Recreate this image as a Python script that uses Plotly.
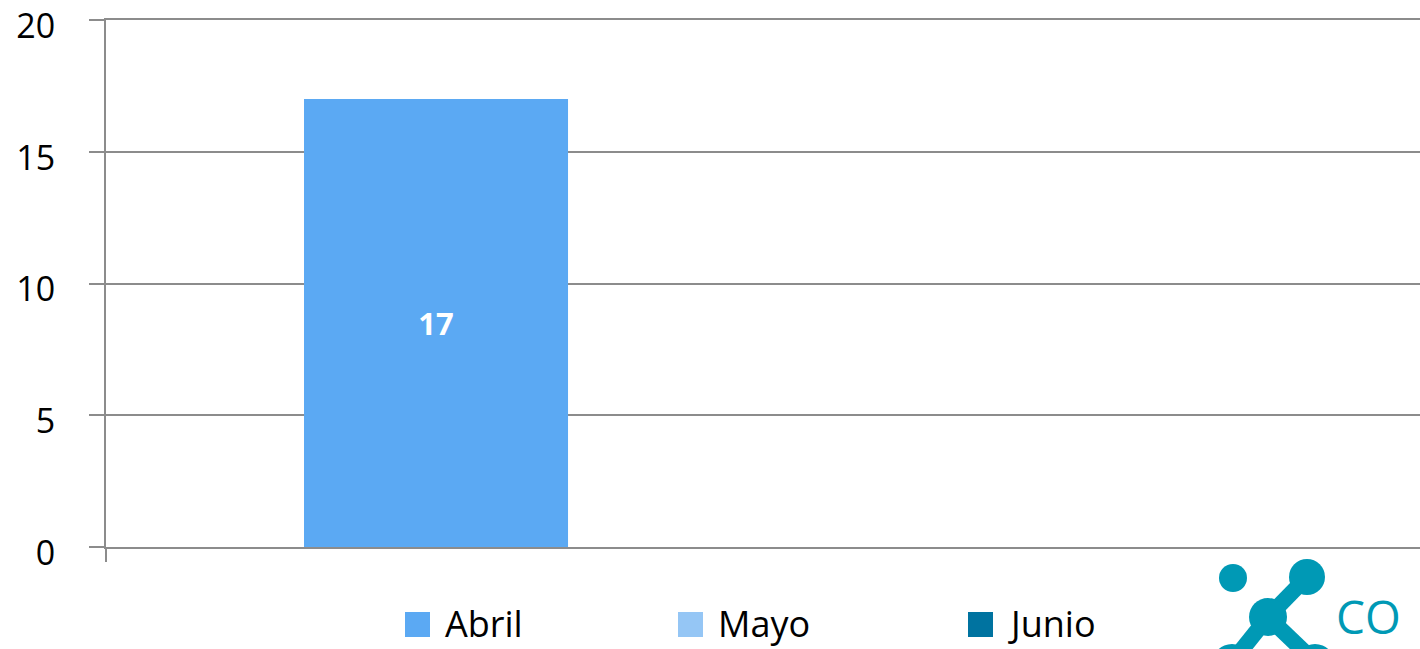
import plotly.graph_objects as go

# ---- data ----
categories = [""]
series_names = ["Abril", "Mayo", "Junio"]
abril_values = [17]
mayo_values = [0]
junio_values = [0]
series_colors = ["#5BA9F3", "#95C6F5", "#0073A0"]
y_ticks = [0, 5, 10, 15, 20]

W, H = 1420, 649
ML, MR, MT, MB = 106, 0, 20, 102
PW, PH = W - ML - MR, H - MT - MB


def px(x):
    return (x - ML) / PW


def py(y):
    return (H - MB - y) / PH


FONT = "Open Sans"
GRID = "#8C8C8C"

fig = go.Figure()
values = [abril_values, mayo_values, junio_values]
for name, vals, col in zip(series_names, values, series_colors):
    fig.add_trace(go.Bar(
        x=categories, y=vals, name=name,
        marker=dict(color=col, line=dict(width=0)),
        text=[str(v) if v else "" for v in vals],
        textposition="inside", insidetextanchor="middle",
        textfont=dict(family=FONT, size=31, color="white", weight="bold"),
        showlegend=False,
    ))

fig.update_layout(
    width=W, height=H,
    margin=dict(l=ML, r=MR, t=MT, b=MB, autoexpand=False),
    paper_bgcolor="white", plot_bgcolor="white",
    barmode="group", bargap=1/3, bargroupgap=0,
    font=dict(family=FONT, color="black"),
    xaxis=dict(type="category", range=[-0.5, 0.606], showticklabels=False,
               showgrid=False, showline=True, mirror=True, linecolor=GRID,
               linewidth=2, ticks="", zeroline=False, automargin=False),
    yaxis=dict(range=[0, 20], tickvals=y_ticks, showgrid=True, gridcolor=GRID,
               gridwidth=2, showline=True, linecolor=GRID, linewidth=2,
               ticks="outside", ticklen=15, tickwidth=2, tickcolor=GRID,
               ticklabelstandoff=27, ticklabeloverflow="allow",
               ticklabelshift=6,
               tickfont=dict(size=34, family=FONT), automargin=False,
               zeroline=False),
)

shapes = []
# axis extension below the x axis
shapes.append(dict(type="line", xref="paper", yref="paper", x0=0, x1=0,
                   y0=0, y1=py(562), line=dict(color=GRID, width=2)))

# custom legend
legend_x = [405, 678, 968]
for name, col, lx in zip(series_names, series_colors, legend_x):
    shapes.append(dict(type="rect", xref="paper", yref="paper",
                       x0=px(lx), x1=px(lx + 25), y0=py(612), y1=py(637),
                       fillcolor=col, line=dict(width=0)))
    fig.add_annotation(x=px(lx + 38), y=py(623), xref="paper", yref="paper",
                       text=name, showarrow=False, xanchor="left",
                       yanchor="middle",
                       font=dict(family=FONT, size=36, color="black"))

# logo
TEAL = "#0099B5"
def circle(cx, cy, r):
    return dict(type="circle", xref="paper", yref="paper",
                x0=px(cx - r), x1=px(cx + r), y0=py(cy + r), y1=py(cy - r),
                fillcolor=TEAL, line=dict(width=0), layer="above")

def seg(x0, y0, x1, y1, w):
    return dict(type="line", xref="paper", yref="paper",
                x0=px(x0), x1=px(x1), y0=py(y0), y1=py(y1),
                line=dict(color=TEAL, width=w), layer="above")

shapes += [
    seg(1268, 617, 1307, 577, 16),
    seg(1268, 617, 1232, 662, 16),
    seg(1268, 617, 1315, 662, 16),
    circle(1233, 578, 14),
    circle(1307, 577, 18),
    circle(1268, 617, 19),
    circle(1232, 664, 20),
    circle(1315, 664, 20),
]
fig.add_annotation(x=px(1334), y=py(649), xref="paper", yref="paper",
                   text="CO", showarrow=False, xanchor="left",
                   yanchor="bottom",
                   font=dict(family=FONT, size=46, color=TEAL))

fig.update_layout(shapes=shapes)
fig.write_html("out.html", config={"displayModeBar": False},
               post_script="document.body.style.margin='0';")
